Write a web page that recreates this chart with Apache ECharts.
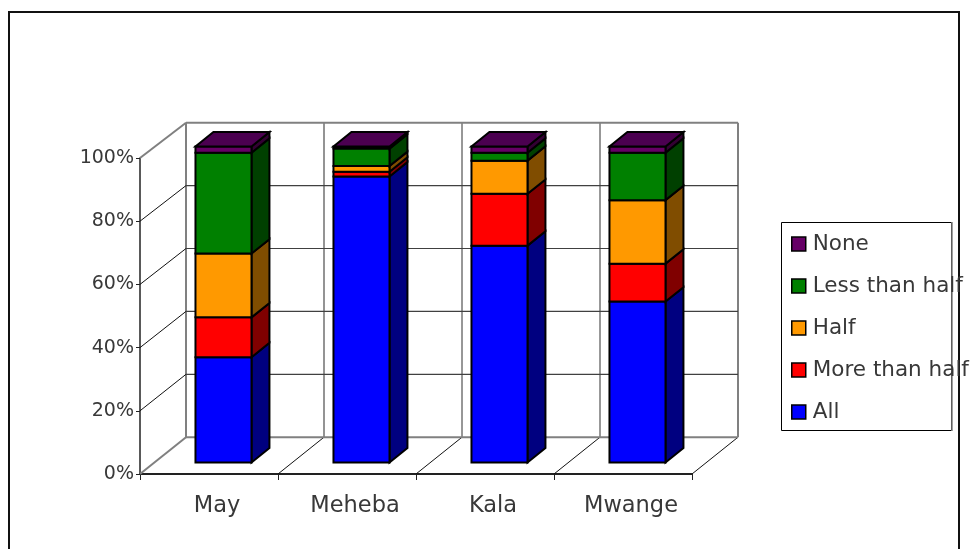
<!DOCTYPE html>
<html>
<head>
<meta charset="utf-8">
<style>html,body{margin:0;padding:0;background:#fff}#chart{width:975px;height:549px}</style>
<script src="https://cdn.jsdelivr.net/npm/echarts@6/dist/echarts.min.js"></script>
</head>
<body>
<div id="chart"></div>
<script>
// Share of respondents per site, in percent
const categories = ['May', 'Meheba', 'Kala', 'Mwange'];
const allValues = [33.3, 90.5, 68.6, 50.9];
const moreThanHalf = [12.6, 1.5, 16.4, 12.0];
const half = [20.2, 1.8, 10.5, 20.1];
const lessThanHalf = [31.9, 5.5, 2.5, 15.0];
const none = [2.0, 0.7, 2.0, 2.0];
const yTicks = [0, 20, 40, 60, 80, 100];

const seriesDefs = [
  { name: 'All', values: allValues, color: '#0000ff', side: '#000080' },
  { name: 'More than half', values: moreThanHalf, color: '#ff0000', side: '#800000' },
  { name: 'Half', values: half, color: '#ff9900', side: '#804d00' },
  { name: 'Less than half', values: lessThanHalf, color: '#008000', side: '#004000' },
  { name: 'None', values: none, color: '#660066', side: '#330033' }
];
const topFace = '#4b0050';
const legendOrder = ['None', 'Less than half', 'Half', 'More than half', 'All'];

// Oblique projection: how far the back wall sits from the front plane
const DEPTH_X = 46, DEPTH_Y = -36.8, WALL_TOP_RISE = -35.3;
const BAR_FRONT = 0.315, BAR_BACK = 0.705, BAR_WIDTH = 0.406;
const FONT = '"DejaVu Sans"';
const TEXT = '#383838';

function seg(x1, y1, x2, y2, stroke, lineWidth) {
  return { type: 'line', silent: true, shape: { x1, y1, x2, y2 }, style: { stroke, lineWidth, fill: null } };
}

function renderWalls(params) {
  const g = params.coordSys;
  const left = g.x, right = g.x + g.width, top = g.y, bottom = g.y + g.height;
  const backTop = top + WALL_TOP_RISE, backBottom = bottom + DEPTH_Y;
  const kids = [];
  const n = categories.length;
  for (let i = 0; i <= n; i++) {
    const x = left + g.width * i / n;
    const edge = i === 0 || i === n;
    kids.push(seg(x + DEPTH_X, backTop, x + DEPTH_X, backBottom, edge ? '#808080' : (i === 1 ? '#707070' : '#303030'), edge ? 2 : (i === 1 ? 1.5 : 1)));
    kids.push(seg(x, bottom, x + DEPTH_X, backBottom, i === 0 ? '#808080' : '#111', i === 0 ? 2 : 1));
  }
  yTicks.forEach(function (t) {
    const y = bottom - g.height * t / 100;
    const by = backBottom - (backBottom - backTop) * t / 100;
    const edge = t === 0 || t === 100;
    kids.push(seg(left + DEPTH_X, by, right + DEPTH_X, by, edge ? '#808080' : '#404040', edge ? 2 : 1.2));
    if (t !== 0) kids.push(seg(left, y, left + DEPTH_X, by, t === 100 ? '#808080' : '#111', t === 100 ? 2 : 1));
  });
  return { type: 'group', children: kids };
}

function makeBarRenderer(def, isTop) {
  return function (params, api) {
    const low = api.coord([api.value(0), api.value(1)]);
    const high = api.coord([api.value(0), api.value(2)]);
    const w = api.size([1, 0])[0] * BAR_WIDTH;
    const fx = BAR_FRONT * DEPTH_X, fy = BAR_FRONT * DEPTH_Y;
    const dx = (BAR_BACK - BAR_FRONT) * DEPTH_X, dy = (BAR_BACK - BAR_FRONT) * DEPTH_Y;
    const x0 = low[0] - w / 2 + fx, x1 = x0 + w;
    const y0 = low[1] + fy, y1 = high[1] + fy;
    const edge = { stroke: '#000', lineWidth: 2, lineJoin: 'miter' };
    const kids = [
      { type: 'polygon', shape: { points: [[x1, y0], [x1 + dx, y0 + dy], [x1 + dx, y1 + dy], [x1, y1]] },
        style: Object.assign({ fill: def.side }, edge) },
      { type: 'rect', shape: { x: x0, y: y1, width: w, height: y0 - y1 },
        style: Object.assign({ fill: def.color }, edge) }
    ];
    if (isTop) {
      kids.push({ type: 'polygon', shape: { points: [[x0, y1], [x1, y1], [x1 + dx, y1 + dy], [x0 + dx, y1 + dy]] },
        style: Object.assign({ fill: topFace }, edge) });
    }
    return { type: 'group', children: kids };
  };
}

const barSeries = [];
const running = categories.map(function () { return 0; });
seriesDefs.forEach(function (def, s) {
  const rows = def.values.map(function (v, i) {
    const row = [i, running[i], running[i] + v];
    running[i] += v;
    return row;
  });
  barSeries.push({
    type: 'custom',
    name: def.name,
    data: rows,
    z: 5 + s,
    silent: true,
    itemStyle: { color: def.color },
    encode: { x: 0, y: 2 },
    renderItem: makeBarRenderer(def, s === seriesDefs.length - 1)
  });
});

const chart = echarts.init(document.getElementById('chart'), null, { renderer: 'canvas' });
chart.setOption({
  animation: false,
  backgroundColor: '#ffffff',
  grid: { left: 140, right: 283, top: 158, bottom: 75, containLabel: false },
  xAxis: {
    type: 'category',
    data: categories,
    boundaryGap: true,
    axisLine: { lineStyle: { color: '#222', width: 2 } },
    axisTick: { show: true, length: 6, alignWithLabel: false, interval: 0, lineStyle: { color: '#222', width: 1 } },
    axisLabel: { margin: 21, fontFamily: FONT, fontSize: 22.5, color: TEXT, interval: 0, padding: [0, 0, 0, 16] },
    splitLine: { show: false }
  },
  yAxis: {
    type: 'value',
    min: 0,
    max: 100,
    interval: 20,
    axisLine: { show: true, lineStyle: { color: '#222', width: 1.5 } },
    axisTick: { show: true, length: 4, lineStyle: { color: '#222', width: 1 } },
    axisLabel: { margin: 6, fontFamily: FONT, fontSize: 19, color: TEXT, formatter: '{value}%', padding: [0, 0, 4, 0] },
    splitLine: { show: false }
  },
  legend: {
    orient: 'vertical',
    left: 791,
    top: 233,
    data: legendOrder,
    selectedMode: false,
    icon: 'rect',
    itemWidth: 14,
    itemHeight: 14,
    itemGap: 20,
    padding: 0,
    itemStyle: { borderColor: '#000', borderWidth: 1.5 },
    textStyle: { fontFamily: FONT, fontSize: 21.5, color: TEXT, padding: [0, 0, 0, 2] },
    formatter: '{name}'
  },
  graphic: [
    { type: 'polyline', silent: true, z: 0, shape: { points: [[9, 549], [9, 12], [959, 12], [959, 549]] },
      style: { stroke: '#111', lineWidth: 2, fill: null } },
    { type: 'rect', silent: true, z: 1, shape: { x: 781.5, y: 222.5, width: 170, height: 208 },
      style: { stroke: '#000', lineWidth: 1, fill: '#fff' } },
    { type: 'line', silent: true, z: 1, shape: { x1: 952, y1: 222, x2: 952, y2: 431 },
      style: { stroke: '#808080', lineWidth: 1.5 } }
  ],
  series: [{
    type: 'custom',
    name: 'walls',
    data: [[0, 0]],
    z: 1,
    silent: true,
    renderItem: renderWalls
  }].concat(barSeries)
});
</script>
</body>
</html>
